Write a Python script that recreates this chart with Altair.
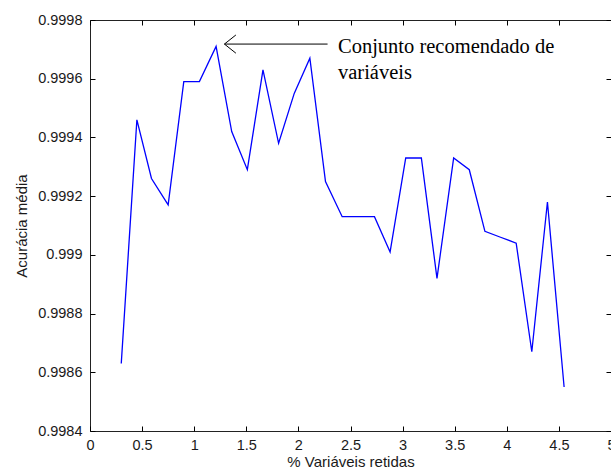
import altair as alt
import pandas as pd

# Data
pct = [0.30, 0.45, 0.59, 0.75, 0.90, 1.05, 1.21, 1.36, 1.51, 1.66, 1.81, 1.96, 2.11, 2.26,
       2.42, 2.57, 2.73, 2.88, 3.03, 3.18, 3.33, 3.49, 3.64, 3.79, 3.94, 4.09, 4.24, 4.39, 4.55]
acc = [0.99863, 0.99946, 0.99926, 0.99917, 0.99959, 0.99959, 0.99971, 0.99942, 0.99929,
       0.99963, 0.99938, 0.99955, 0.99967, 0.99925, 0.99913, 0.99913, 0.99913, 0.99901,
       0.99933, 0.99933, 0.99892, 0.99933, 0.99929, 0.99908, 0.99906, 0.99904, 0.99867,
       0.99918, 0.99855]

ticks_x = [0, 0.5, 1, 1.5, 2, 2.5, 3, 3.5, 4, 4.5, 5]
ticks_y = [0.9984, 0.9986, 0.9988, 0.999, 0.9992, 0.9994, 0.9996, 0.9998]

note_text = "Conjunto recomendado de\nvariáveis"
note_x = [2.38]
note_y = [0.999686]

# arrow segments (tail->tip, tip->arm, tip->arm)
arr_x = [2.28, 1.29, 1.29]
arr_x2 = [1.29, 1.40, 1.40]
arr_y = [0.999718, 0.999718, 0.999718]
arr_y2 = [0.999718, 0.999749, 0.999687]

df = pd.DataFrame({"pct": pct, "acc": acc})
note_df = pd.DataFrame({"x": note_x, "y": note_y, "t": [note_text]})
arr_df = pd.DataFrame({"x": arr_x, "x2": arr_x2, "y": arr_y, "y2": arr_y2})

xs = alt.Scale(domain=[0, 5], nice=False, zero=False)
ys = alt.Scale(domain=[0.9984, 0.9998], nice=False, zero=False)

FONT = "Liberation Sans"
common = dict(domain=False, grid=False, tickColor="#000", tickSize=5, offset=-5, tickWidth=1,
              labelFlush=False, labelOverlap=False,
              labelFont=FONT, labelFontSize=14.5, labelColor="#1a1a1a",
              titleFont=FONT, titleFontSize=15, titleFontWeight="normal", titleColor="#1a1a1a")

line = alt.Chart(df).mark_line(color="#0000ff", strokeWidth=1.3).encode(
    x=alt.X("pct:Q", scale=xs,
            axis=alt.Axis(orient="bottom", values=ticks_x, format="~g",
                          title="% Variáveis retidas", labelPadding=7, titlePadding=3,
                          **common)),
    y=alt.Y("acc:Q", scale=ys,
            axis=alt.Axis(orient="left", values=ticks_y, format=".4~f",
                          title="Acurácia média", labelPadding=8, titlePadding=8,
                          **common)),
)

tick_common = dict(domain=False, grid=False, tickColor="#000", tickSize=5, offset=-5,
                   tickWidth=1, labels=False, title=None)

frame = alt.Chart(df).mark_point(opacity=0).encode(
    x=alt.X("pct:Q", scale=xs, axis=alt.Axis(orient="top", values=ticks_x, **tick_common)),
    y=alt.Y("acc:Q", scale=ys, axis=alt.Axis(orient="right", values=ticks_y, **tick_common)),
)

arrow = alt.Chart(arr_df).mark_rule(color="#000", strokeWidth=1).encode(
    x=alt.X("x:Q", scale=xs, axis=None),
    x2="x2:Q",
    y=alt.Y("y:Q", scale=ys, axis=None),
    y2="y2:Q",
)

note = alt.Chart(note_df).mark_text(
    align="left", baseline="alphabetic", lineBreak="\n", lineHeight=26,
    font="Liberation Serif", fontSize=20.5, color="#000"
).encode(
    x=alt.X("x:Q", scale=xs, axis=None),
    y=alt.Y("y:Q", scale=ys, axis=None),
    text="t:N",
)

chart = alt.layer(line, frame, arrow, note).resolve_axis(
    x="independent", y="independent"
).properties(
    width=521, height=411,
    padding={"left": 90, "top": 20, "right": 0, "bottom": 39},
    autosize="none",
    background="white",
).configure_view(stroke="#222", strokeWidth=1)

chart.save("out.html", embed_options={"renderer": "svg", "actions": False})
